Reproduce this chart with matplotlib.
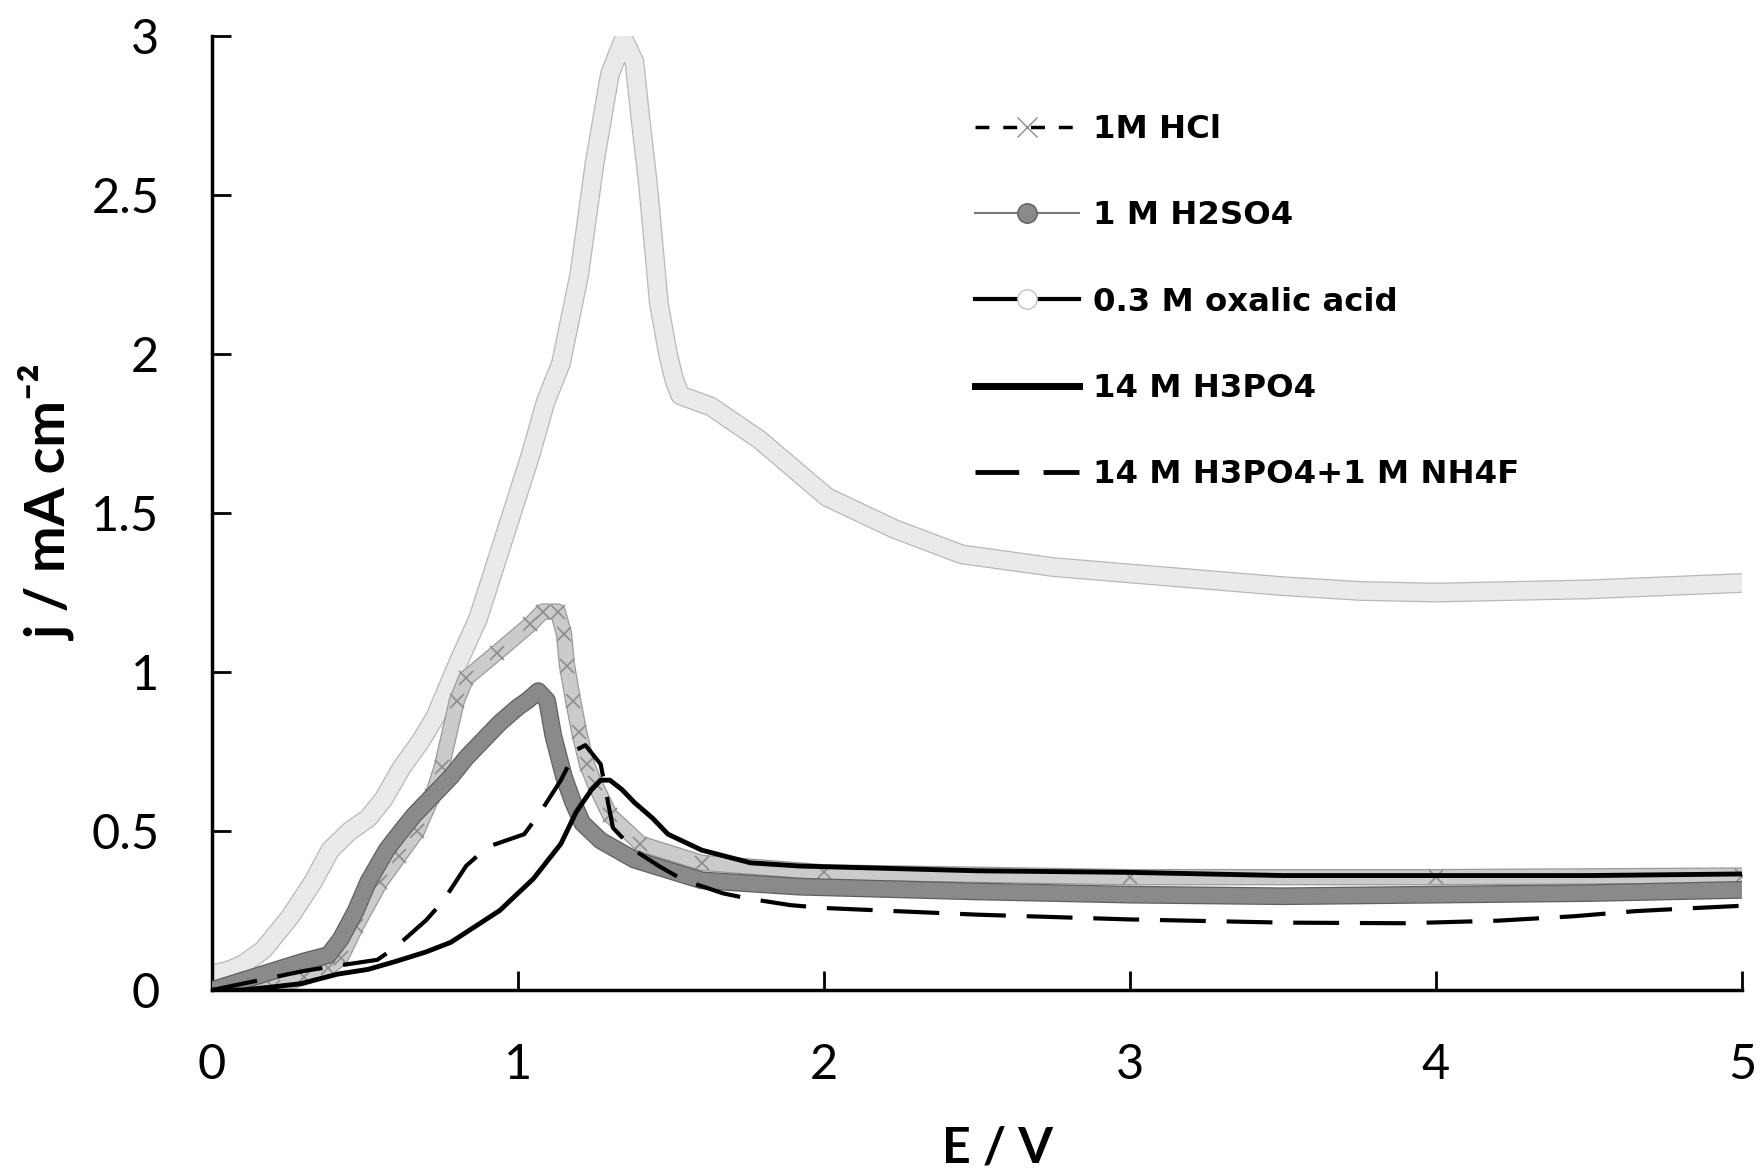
import numpy as np
import matplotlib.pyplot as plt
import matplotlib.patheffects as pe
from matplotlib.lines import Line2D

# 1M HCl
hcl_e = [0.0, 0.1, 0.2, 0.3, 0.38, 0.42, 0.47, 0.55, 0.61, 0.67, 0.72, 0.75, 0.80, 0.83,
         0.93, 1.04, 1.08, 1.13, 1.15, 1.16, 1.18, 1.20, 1.225, 1.25, 1.30, 1.40, 1.60,
         2.0, 3.0, 4.0, 5.0]
hcl_j = [0.0, 0.0, 0.01, 0.04, 0.07, 0.10, 0.20, 0.34, 0.42, 0.50, 0.61, 0.70, 0.91, 0.98,
         1.06, 1.15, 1.19, 1.19, 1.12, 1.02, 0.91, 0.81, 0.71, 0.65, 0.55, 0.46, 0.40,
         0.37, 0.355, 0.355, 0.36]

# 1 M H2SO4
h2so4_e = [0.0, 0.1, 0.2, 0.3, 0.38, 0.42, 0.47, 0.51, 0.57, 0.61, 0.66, 0.72, 0.78, 0.83,
           0.89, 0.94, 1.0, 1.03, 1.066, 1.095, 1.115, 1.15, 1.18, 1.21, 1.27, 1.38, 1.6,
           1.92, 2.5, 3.0, 3.5, 4.0, 4.5, 5.0]
h2so4_j = [0.0, 0.03, 0.06, 0.09, 0.11, 0.16, 0.25, 0.34, 0.44, 0.49, 0.55, 0.61, 0.67, 0.73,
           0.79, 0.84, 0.89, 0.91, 0.94, 0.91, 0.80, 0.67, 0.59, 0.525, 0.47, 0.41, 0.345,
           0.325, 0.31, 0.30, 0.295, 0.30, 0.305, 0.315]

# 0.3 M oxalic acid
ox_e = [0.0, 0.05, 0.1, 0.167, 0.255, 0.33, 0.386, 0.45, 0.51, 0.56, 0.62, 0.68, 0.73, 0.80,
        0.87, 0.94, 0.98, 1.04, 1.09, 1.14, 1.2, 1.25, 1.30, 1.345, 1.38, 1.40, 1.425, 1.445,
        1.46, 1.49, 1.51, 1.53, 1.63, 1.79, 2.01, 2.23, 2.45, 2.75, 3.0, 3.5, 3.75, 4.0, 4.5, 5.0]
ox_j = [0.05, 0.06, 0.08, 0.126, 0.23, 0.34, 0.44, 0.50, 0.54, 0.60, 0.70, 0.78, 0.86, 1.02,
        1.17, 1.38, 1.5, 1.68, 1.85, 1.97, 2.25, 2.6, 2.88, 2.99, 2.92, 2.74, 2.53, 2.32,
        2.16, 2.0, 1.92, 1.87, 1.835, 1.73, 1.55, 1.45, 1.37, 1.33, 1.31, 1.27, 1.255, 1.25, 1.26, 1.28]

# 14 M H3PO4
h3po4_e = [0.0, 0.1, 0.2, 0.29, 0.41, 0.51, 0.6, 0.7, 0.78, 0.86, 0.94, 1.05, 1.14, 1.19,
           1.24, 1.27, 1.30, 1.34, 1.38, 1.44, 1.49, 1.6, 1.76, 1.92, 2.5, 3.0, 3.5, 4.0, 4.5, 5.0]
h3po4_j = [0.0, 0.0, 0.01, 0.02, 0.05, 0.065, 0.09, 0.12, 0.15, 0.20, 0.25, 0.35, 0.46, 0.56,
           0.63, 0.66, 0.66, 0.63, 0.59, 0.54, 0.49, 0.44, 0.40, 0.39, 0.375, 0.37, 0.36, 0.36, 0.36, 0.365]

# 14 M H3PO4 + 1 M NH4F
nh4f_e = [0.0, 0.1, 0.2, 0.3, 0.4, 0.54, 0.60, 0.70, 0.755, 0.83, 0.90, 0.96, 1.02, 1.07,
          1.14, 1.19, 1.22, 1.27, 1.31, 1.38, 1.46, 1.54, 1.67, 1.75, 1.89, 2.0, 2.5, 3.0,
          3.5, 3.9, 4.2, 4.45, 4.65, 4.85, 5.0]
nh4f_j = [0.0, 0.02, 0.04, 0.06, 0.075, 0.095, 0.135, 0.22, 0.28, 0.39, 0.45, 0.47, 0.49, 0.555,
          0.66, 0.755, 0.77, 0.71, 0.51, 0.44, 0.39, 0.346, 0.304, 0.288, 0.267, 0.258, 0.237, 0.222,
          0.212, 0.21, 0.218, 0.232, 0.248, 0.258, 0.265]

labels = ['1M HCl', '1 M H2SO4', '0.3 M oxalic acid', '14 M H3PO4', '14 M H3PO4+1 M NH4F']


def band(ax, x, y, face, edge, width, z):
    # dense overlapping markers look like a thick outlined band
    ax.plot(x, y, color=face, lw=width, solid_capstyle='round', solid_joinstyle='round',
            zorder=z, path_effects=[pe.Stroke(linewidth=width + 1.8, foreground=edge,
                                              joinstyle='round', capstyle='round'),
                                    pe.Normal()])


fig = plt.figure(figsize=(17.6, 11.74), dpi=100)
ax = fig.add_axes([0.1205, 0.1567, 0.8693, 0.8126])

band(ax, ox_e, ox_j, '#eaeaea', '#b8b8b8', 12.5, 1)
band(ax, hcl_e, hcl_j, '#cbcbcb', '#9a9a9a', 10, 2)
ax.plot(hcl_e, hcl_j, ls='none', marker='x', ms=10, mew=1.2, color='#8c8c8c', zorder=2.1)
band(ax, h2so4_e, h2so4_j, '#8a8a8a', '#606060', 11, 3)
ax.plot(h3po4_e, h3po4_j, color='black', lw=3.5, zorder=4, solid_joinstyle='round')
ax.plot(nh4f_e, nh4f_j, color='black', lw=3, dashes=(11, 5), zorder=5)

ax.set_xlim(0, 5)
ax.set_ylim(0, 3)
ax.set_xticks(range(6))
ax.set_yticks([0, 0.5, 1, 1.5, 2, 2.5, 3])
ax.set_yticklabels(['0', '0.5', '1', '1.5', '2', '2.5', '3'])
for s in ['top', 'right']:
    ax.spines[s].set_visible(False)
for s in ['left', 'bottom']:
    ax.spines[s].set_linewidth(2.5)
ax.tick_params(direction='in', length=14, width=2, labelsize=35)
ax.tick_params(axis='x', pad=38)
ax.tick_params(axis='y', pad=38)
for t in ax.get_xticklabels() + ax.get_yticklabels():
    t.set_family('Lato')

fig.text(0.027, 0.572, 'j / mA cm⁻²', rotation=90, ha='center', va='center',
         fontsize=40, fontweight='bold', family=['Lato', 'DejaVu Sans'])
fig.text(0.5665, 0.022, 'E / V', ha='center', va='center',
         fontsize=36, fontweight='bold', family='Lato')

handles = [
    Line2D([], [], color='black', lw=2.5, dashes=(4, 4), marker='x', ms=14, mew=1,
           mec='#8c8c8c'),
    Line2D([], [], color='#7a7a7a', lw=1.5, marker='o', ms=14, mfc='#8a8a8a', mec='#5e5e5e'),
    Line2D([], [], color='black', lw=3, marker='o', ms=14, mfc='white', mec='#c4c4c4'),
    Line2D([], [], color='black', lw=5),
    Line2D([], [], color='black', lw=3.5, dashes=(9, 5)),
]
ax.legend(handles, labels, loc='upper left', bbox_to_anchor=(0.554, 0.903),
          bbox_transform=fig.transFigure, frameon=False, borderpad=0, borderaxespad=0,
          handlelength=3.2, handletextpad=0.45, labelspacing=1.71,
          prop={'family': 'DejaVu Sans', 'weight': 'bold', 'size': 23.3})

fig.savefig('out.png', dpi=100)
